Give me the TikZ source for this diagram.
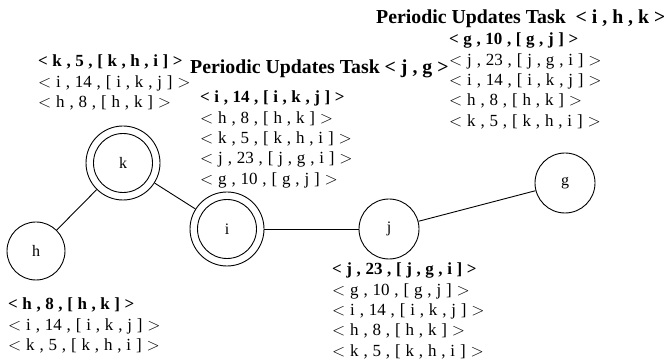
\documentclass[tikz,border=0pt]{standalone}
\usepackage{fontspec}
\setmainfont{Liberation Serif}
\newcommand\tabfont{\fontsize{17}{20.3}\selectfont}
\newcommand\rline[1]{{\spaceskip=.285em\relax\(<\) #1 \(>\)}}
\newcommand\bline[1]{{\bfseries\spaceskip=.27em\relax < #1 >}}

\begin{document}
\begin{tikzpicture}[
    x=1pt, y=-1pt,
    station/.style={
        draw,
        circle,
        minimum size=60pt,
        inner sep=0pt,
        line width=0.9pt,
        font=\fontsize{16}{18}\selectfont
    },
    relay/.style={
        station,
        minimum size=74pt,
        path picture={\draw[line width=0.9pt] (path picture bounding box.center) circle (29.5pt);}
    },
    rtable/.style={
        anchor=north west,
        inner sep=0pt,
        align=left,
        font=\tabfont
    },
    tasklabel/.style={
        anchor=north west,
        inner sep=0pt,
        font=\fontsize{19.8}{22}\selectfont\bfseries
    }
    ]
    \useasboundingbox (0,0) rectangle (664,363);

    % nodes
    \node[relay] (k) at (123,163) {k};
    \node[relay] (i) at (227,229) {i};
    \node[station, minimum size=58pt] (h) at (36,251) {h};
    \node[station] (j) at (389,229) {j};
    \node[station] (g) at (565,183) {g};

    \draw[line width=0.9pt] (h) -- (k);
    \draw[line width=0.9pt] (k) -- (i);
    \draw[line width=0.9pt] (i) -- (j);
    \draw[line width=0.9pt] (j) -- (g);

    % routing tables
    \node[rtable] (ktab) at (38,55) {\bline{k , 5 , [ k , h , i ]}\\\rline{i , 14 , [ i , k , j ]}\\\rline{h , 8 , [ h , k ]}};
    \node[rtable] (itab) at (200,91) {\bline{i , 14 , [ i , k , j ]}\\\rline{h , 8 , [ h , k ]}\\\rline{k , 5 , [ k , h , i ]}\\\rline{j , 23 , [ j , g , i ]}\\\rline{g , 10 , [ g , j ]}};
    \node[rtable] (gtab) at (449,33) {\bline{g , 10 , [ g , j ]}\\\rline{j , 23 , [ j , g , i ]}\\\rline{i , 14 , [ i , k , j ]}\\\rline{h , 8 , [ h , k ]}\\\rline{k , 5 , [ k , h , i ]}};
    \node[rtable] (jtab) at (332,263) {\bline{j , 23 , [ j , g , i ]}\\\rline{g , 10 , [ g , j ]}\\\rline{i , 14 , [ i , k , j ]}\\\rline{h , 8 , [ h , k ]}\\\rline{k , 5 , [ k , h , i ]}};
    \node[rtable] (htab) at (8,298) {\bline{h , 8 , [ h , k ]}\\\rline{i , 14 , [ i , k , j ]}\\\rline{k , 5 , [ k , h , i ]}};

    % task labels
    \node[tasklabel] (task1) at (190,59.5) {Periodic Updates Task < j , g >};
    \node[tasklabel] (task2) at (376,9.5) {Periodic Updates Task~ < i , h , k >};
\end{tikzpicture}
\end{document}
